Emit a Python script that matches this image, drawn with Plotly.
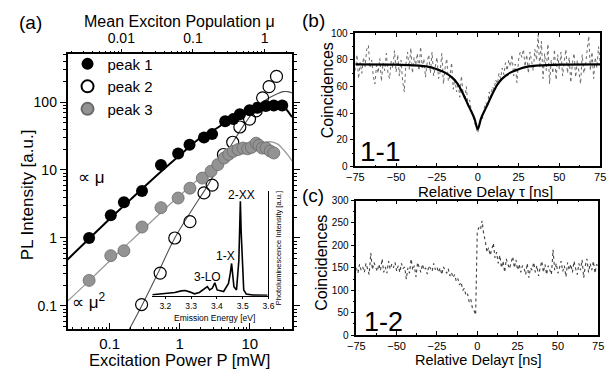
import plotly.graph_objects as go

FONT = "Liberation Sans, Arial, sans-serif"
W, H = 613, 375

# ---------------- Panel (a): PL intensity vs excitation power ----------------
peak1_power = [0.051, 0.104, 0.16, 0.29, 0.54, 0.95, 1.38, 2.22, 2.9, 4.45, 5.8, 7.2, 9.9, 12.9, 16.9, 22, 29]
peak1_int = [1.0, 2.16, 3.35, 4.9, 11.8, 17.5, 23.5, 30, 33.7, 52, 56, 66, 75.5, 82.6, 87, 89, 89]

peak2_power = [0.286, 0.526, 0.85, 1.4, 2.22, 2.9, 4.2, 5.7, 7.2, 9.9, 12.3, 15.2, 18.8, 24]
peak2_int = [0.105, 0.305, 1.0, 1.74, 4.6, 6.0, 16.9, 25.6, 42.9, 56, 74, 115, 168, 238]

peak3_power = [0.051, 0.104, 0.16, 0.29, 0.54, 0.95, 1.4, 2.1, 2.8, 3.5, 4.3, 5.0, 5.8, 6.8, 8.0,
               9.3, 10.5, 12.3, 13.5, 15, 17, 19.5, 22]
peak3_int = [0.238, 0.55, 0.65, 1.45, 2.79, 3.87, 5.4, 7.6, 9.6, 12, 15, 17, 18.8, 20, 21,
             20.5, 21.5, 24.8, 23, 21, 21, 19, 17.8]

fit1_power = [0.025, 0.05, 0.1, 0.2, 0.5, 1, 2, 3, 5, 8, 12, 16, 20, 24, 28, 32, 36, 40]
fit1_int = [0.48, 0.96, 1.9, 3.7, 8.8, 16.5, 30, 38, 54, 71, 83, 89, 91, 92, 89, 81, 70, 60]

fit2_power = [0.19, 0.3, 0.5, 0.85, 1.5, 2.45, 4, 5.8, 8.5, 12, 17, 23, 30, 35, 40]
fit2_int = [0.045, 0.11, 0.32, 1.0, 2.6, 5.7, 13.5, 26, 48, 78, 108, 128, 142, 142, 136]

fit3_power = [0.025, 0.05, 0.1, 0.2, 0.5, 1, 2, 4, 7, 10, 15, 20, 25, 30, 35, 40]
fit3_int = [0.117, 0.23, 0.46, 0.9, 2.2, 4.2, 7.8, 13.5, 19, 22, 25, 26, 24, 20, 16.5, 13.6]

power_ticks = [0.1, 1, 10]
power_ticktext = ["0.1", "1", "10"]
intensity_ticks = [0.1, 1, 10, 100]
intensity_ticktext = ["0.1", "1", "10", "100"]
mu_ticks = [0.01, 0.1, 1]
mu_ticktext = ["0.01", "0.1", "1"]

# inset spectrum
inset_energy = [3.149, 3.199, 3.237, 3.262, 3.277, 3.294, 3.313, 3.332, 3.350, 3.363, 3.372, 3.382,
                3.392, 3.401, 3.426, 3.445, 3.452, 3.457, 3.462, 3.466, 3.476, 3.485, 3.488,
                3.491, 3.494, 3.498, 3.504, 3.514, 3.539, 3.596]
inset_pl = [3, 6, 10, 15, 16, 12, 6, 10, 20, 28, 18, 23,
            40, 18, 13, 38, 70, 100, 60, 28, 18, 108, 200,
            293, 200, 108, 18, 5, 2, 1]
inset_ticks = [3.2, 3.3, 3.4, 3.5, 3.6]
inset_ticktext = ["3.2", "3.3", "3.4", "3.5", "3.6"]

# ---------------- Panel (b): 1-1 autocorrelation ----------------
delay_b = list(range(-75, 76))
coinc_b = [72, 84, 66, 78, 70, 82, 75, 88, 91, 74, 80, 68, 62, 76, 70, 81, 64, 78, 72, 85, 70, 66, 79, 74, 87,
           71, 84, 68, 80, 64, 56, 77, 86, 73, 89, 70, 82, 76, 85, 72, 90, 74, 81, 67, 78, 84, 70, 86, 68, 75, 82,
           66, 71, 85, 62, 74, 81, 64, 68, 78, 58, 66, 56, 63, 52, 68, 55, 50, 60, 46, 50, 42, 38, 34, 30, 25,
           31, 38, 36, 44, 48, 45, 56, 52, 60, 58, 65, 62, 70, 66, 74, 69, 78, 72, 80, 75, 84, 68, 77, 63, 80,
           86, 82, 88, 75, 84, 70, 86, 79, 72, 88, 80, 99, 74, 94, 66, 85, 72, 92, 62, 80, 70, 88, 65, 84, 73,
           86, 68, 79, 88, 70, 82, 63, 78, 85, 67, 80, 72, 62, 84, 70, 76, 88, 98, 72, 86, 66, 82, 74, 90, 78]
fit_b_delay = [-75, -50, -40, -30, -25, -20, -15, -12, -10, -8, -6, -4, -2, 0, 2, 4, 6, 8, 10, 12, 15, 20, 25, 30, 40, 50, 75]
fit_b_coinc = [76.7, 76.5, 76, 74.8, 73, 70.5, 66, 61.5, 57, 52, 46.5, 41.5, 36, 28,
               36, 41.5, 46.5, 52, 57, 61.5, 66, 70.5, 73, 74.8, 76, 76.5, 76.7]

# ---------------- Panel (c): 1-2 cross-correlation ----------------
delay_c = list(range(-75, 76))
coinc_c = [150, 138, 158, 145, 152, 140, 160, 148, 135, 183, 146, 162, 150, 142, 158, 144, 170, 140, 152, 138, 165, 147, 158, 150, 162,
           143, 155, 140, 160, 148, 152, 125, 150, 138, 170, 145, 155, 130, 162, 148, 140, 158, 145, 150, 136, 155, 148, 142, 160, 146, 152,
           140, 150, 135, 152, 145, 138, 148, 132, 140, 128, 135, 120, 126, 112, 118, 100, 104, 88, 92, 74, 80, 60, 55, 45, 230,
           240, 235, 255, 225, 210, 185, 195, 178, 190, 205, 172, 185, 160, 178, 150, 165, 140, 170, 158, 148, 162, 175, 150, 168, 145,
           158, 140, 155, 150, 135, 160, 128, 150, 145, 162, 140, 155, 132, 150, 165, 140, 158, 135, 155, 145, 135, 190, 145, 160, 138,
           150, 165, 142, 155, 130, 162, 145, 158, 140, 165, 148, 135, 160, 145, 168, 128, 155, 170, 140, 160, 145, 165, 138, 158, 148]


def minor_log(lo, hi):
    out = []
    e = lo
    while e <= hi:
        for d in range(2, 10):
            out.append(d * 10.0 ** e)
        e += 1
    return out


def px(x):
    return x / W


def py(y):
    return 1 - y / H


fig = go.Figure()

# panel (a) fits
fig.add_trace(go.Scatter(x=fit3_power, y=fit3_int, mode="lines", line=dict(color="#9a9a9a", width=1.3, shape="spline"),
                         showlegend=False, hoverinfo="skip", xaxis="x", yaxis="y"))
fig.add_trace(go.Scatter(x=fit2_power, y=fit2_int, mode="lines", line=dict(color="#505050", width=1.1, shape="spline"),
                         showlegend=False, hoverinfo="skip", xaxis="x", yaxis="y"))
fig.add_trace(go.Scatter(x=fit1_power, y=fit1_int, mode="lines", line=dict(color="black", width=2, shape="spline"),
                         showlegend=False, hoverinfo="skip", xaxis="x", yaxis="y"))
# panel (a) points
fig.add_trace(go.Scatter(x=peak1_power, y=peak1_int, mode="markers", name="peak 1",
                         marker=dict(symbol="circle", size=12, color="black"), xaxis="x", yaxis="y"))
fig.add_trace(go.Scatter(x=peak2_power, y=peak2_int, mode="markers", name="peak 2",
                         marker=dict(symbol="circle-open", size=12, color="black", line=dict(width=1.2)),
                         xaxis="x", yaxis="y"))
fig.add_trace(go.Scatter(x=peak3_power, y=peak3_int, mode="markers", name="peak 3",
                         marker=dict(symbol="circle", size=12, color="#939393", line=dict(color="#6a6a6a", width=0.8)),
                         xaxis="x", yaxis="y"))
# invisible trace to carry the top (mu) axis
fig.add_trace(go.Scatter(x=[0.1], y=[1], mode="markers", marker=dict(opacity=0), showlegend=False,
                         hoverinfo="skip", xaxis="x2", yaxis="y"))

# inset spectrum
fig.add_trace(go.Scatter(x=inset_energy, y=inset_pl, mode="lines", line=dict(color="black", width=1.6),
                         showlegend=False, hoverinfo="skip", xaxis="x3", yaxis="y3"))

# panel (b)
fig.add_trace(go.Scatter(x=delay_b, y=coinc_b, mode="lines", line=dict(color="#6a6a6a", width=1, dash="dot"),
                         showlegend=False, hoverinfo="skip", xaxis="x4", yaxis="y4"))
fig.add_trace(go.Scatter(x=fit_b_delay, y=fit_b_coinc, mode="lines", line=dict(color="black", width=2.2, shape="spline"),
                         showlegend=False, hoverinfo="skip", xaxis="x4", yaxis="y4"))

# panel (c)
fig.add_trace(go.Scatter(x=delay_c, y=coinc_c, mode="lines", line=dict(color="#404040", width=1.1, dash="dot"),
                         showlegend=False, hoverinfo="skip", xaxis="x5", yaxis="y5"))

axis_common = dict(showgrid=False, zeroline=False, showline=True, linecolor="black", tickcolor="black",
                   tickfont=dict(family=FONT, color="black"))

a_xdom = [px(60), px(290)]
a_ydom = [py(334), py(50)]

fig.update_layout(
    width=W, height=H, autosize=False,
    margin=dict(l=0, r=0, t=0, b=0),
    paper_bgcolor="white", plot_bgcolor="rgba(0,0,0,0)",
    font=dict(family=FONT, color="black"),
    showlegend=True,
    legend=dict(x=px(60), y=py(43), xanchor="left", yanchor="top", bgcolor="rgba(0,0,0,0)",
                font=dict(family=FONT, size=15), tracegroupgap=0, itemsizing="constant", itemwidth=30),
    xaxis=dict(axis_common, domain=a_xdom, anchor="y", type="log", range=[-1.6, 1.6],
               tickmode="array", tickvals=power_ticks, ticktext=power_ticktext, tickfont=dict(size=15, family=FONT),
               ticks="inside", ticklen=7, tickwidth=1.2, linewidth=1.6,
               minor=dict(tickmode="array", tickvals=minor_log(-2, 1), ticks="inside", ticklen=3, tickcolor="black")),
    xaxis2=dict(axis_common, overlaying="x", side="top", anchor="y", type="log", range=[-2.75, 0.38],
                tickmode="array", tickvals=mu_ticks, ticktext=mu_ticktext, tickfont=dict(size=14, family=FONT),
                ticks="outside", ticklen=4, tickwidth=1.2, linewidth=1.6,
                minor=dict(tickmode="array", tickvals=minor_log(-3, 0), ticks="outside", ticklen=2, tickcolor="black")),
    yaxis=dict(axis_common, domain=a_ydom, anchor="x", type="log", range=[-1.343, 2.7],
               tickmode="array", tickvals=intensity_ticks, ticktext=intensity_ticktext, tickfont=dict(size=14, family=FONT),
               ticks="outside", ticklen=6, tickwidth=1.2, linewidth=1.6, mirror="ticks",
               minor=dict(tickmode="array", tickvals=minor_log(-2, 2), ticks="outside", ticklen=3, tickcolor="black")),
    xaxis3=dict(axis_common, domain=[px(147), px(266)], anchor="y3", range=[3.15, 3.6],
                tickmode="array", tickvals=inset_ticks, ticktext=inset_ticktext, tickfont=dict(size=8.5, family=FONT),
                ticks="outside", ticklen=2, linewidth=1.2),
    yaxis3=dict(axis_common, domain=[py(299.3), py(190.7)], anchor="x3", side="right", range=[0, 326],
                showticklabels=False, ticks="", linewidth=1.4),
    xaxis4=dict(axis_common, domain=[px(355), px(606)], anchor="y4", range=[-75, 75],
                tickmode="linear", tick0=-75, dtick=25, tickfont=dict(size=11, family=FONT),
                ticks="inside", ticklen=4, linewidth=1.5, mirror="ticks",
                minor=dict(dtick=12.5, tick0=-75, ticks="inside", ticklen=2, tickcolor="black")),
    yaxis4=dict(axis_common, domain=[py(165.7), py(28.3)], anchor="x4", range=[0, 100],
                tickmode="linear", tick0=0, dtick=20, tickfont=dict(size=10, family=FONT),
                ticks="outside", ticklen=4, linewidth=1.5, mirror=True,
                minor=dict(dtick=10, ticks="outside", ticklen=2, tickcolor="black")),
    xaxis5=dict(axis_common, domain=[px(356), px(604)], anchor="y5", range=[-75, 75],
                tickmode="linear", tick0=-75, dtick=25, tickfont=dict(size=11, family=FONT),
                ticks="inside", ticklen=4, linewidth=1.5, mirror="ticks",
                minor=dict(dtick=12.5, tick0=-75, ticks="inside", ticklen=2, tickcolor="black")),
    yaxis5=dict(axis_common, domain=[py(340), py(201)], anchor="x5", range=[0, 300],
                tickmode="linear", tick0=0, dtick=50, tickfont=dict(size=10, family=FONT),
                ticks="outside", ticklen=4, linewidth=1.5, mirror=True,
                minor=dict(dtick=25, ticks="outside", ticklen=2, tickcolor="black")),
)


def note(text, x, y, size, angle=0, xanchor="center"):
    fig.add_annotation(text=text, x=px(x), y=py(y), xref="paper", yref="paper", showarrow=False,
                       xanchor=xanchor, yanchor="middle", textangle=angle,
                       font=dict(family=FONT, size=size, color="black"))


note("(a)", 22, 17, 19)
note("(b)", 312, 15, 19)
note("(c)", 312, 196, 19)
note("Mean Exciton Population μ", 175, 16, 16)
note("Excitation Power P [mW]", 175, 366, 16.5)
note("PL Intensity [a.u.]", 19, 195, 17, angle=-90)
note("∝ μ", 85, 177, 17)
note("∝ μ<sup>2</sup>", 82, 305, 17)
note("2-XX", 238, 195, 12)
note("1-X", 222, 258, 12)
note("3-LO", 203, 280, 12)
note("Emission Energy [eV]", 211, 322, 8.5)
note("Photoluminescence Intensity [a.u.]", 276, 250, 7.5, angle=-90)
note("Relative Delay τ [ns]", 488, 192, 15)
note("Coincidences", 326, 87, 16, angle=-90)
note("1-1", 380, 150, 28)
note("Relative Delayτ [ns]", 481, 365.5, 14.5)
note("Coincidences", 320, 265, 16, angle=-90)
note("1-2", 384, 326, 27)

fig.write_html("out.html", config={"displayModeBar": False},
               post_script="document.body.style.margin='0px';document.body.style.overflow='hidden';")
